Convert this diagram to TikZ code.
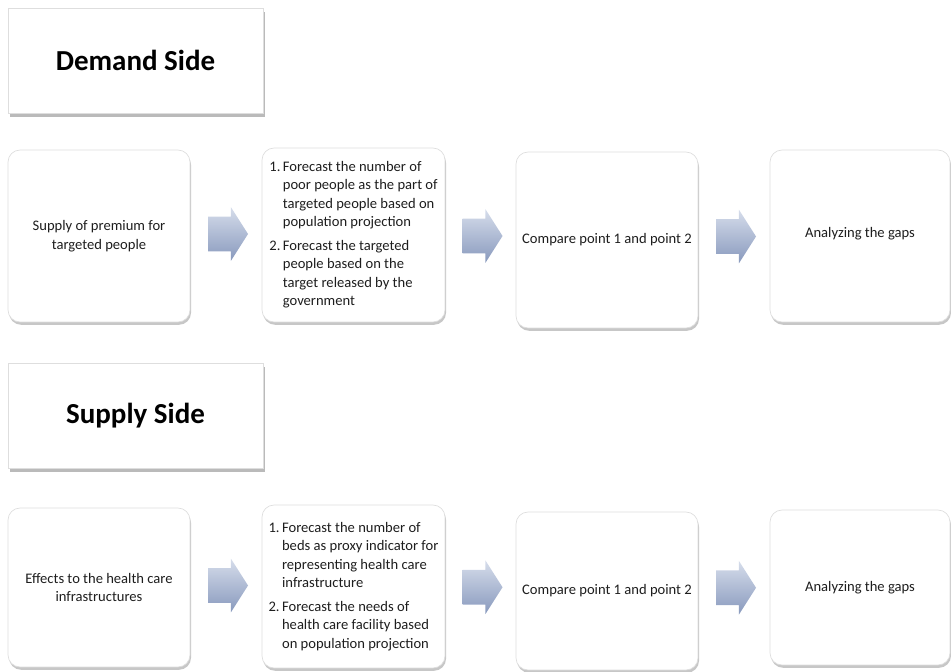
\documentclass[tikz,border=0pt]{standalone}
\usepackage{fontspec}
\setmainfont{Carlito}
\usepackage{tikz}
\usepackage{xcolor}
\usetikzlibrary{shapes.arrows, shadows, calc}
\definecolor{gBorder}{RGB}{222,222,222}
\definecolor{gText}{RGB}{30,30,30}
\definecolor{aLight}{RGB}{214,221,235}
\definecolor{aDark}{RGB}{136,153,189}

\tikzset{
  headbox/.style={draw=gBorder, fill=white, minimum width=5.1cm, minimum height=2.1cm,
    drop shadow={shadow xshift=1pt, shadow yshift=-2pt, fill=black!45, opacity=0.6},
    font=\fontsize{16.5}{20}\selectfont\bfseries, text=black},
  stepbox/.style={draw=gBorder, fill=white, rounded corners=0.24cm, minimum width=3.64cm,
    drop shadow={shadow xshift=0.6pt, shadow yshift=-1.6pt, fill=black!40, opacity=0.55},
    font=\fontsize{8.3}{10.5}\selectfont, text=gText, align=center},
  flowarrow/.style={single arrow, minimum height=0.8cm, text height=0.34cm, text depth=0.34cm,
    text width=0pt, single arrow head extend=0.19cm, single arrow tip angle=115, inner sep=0pt,
    top color=aLight, bottom color=aDark, draw=none, xshift=-0.07cm, yshift=0.03cm}
}

\begin{document}
\begin{tikzpicture}[x=0.02cm, y=-0.02cm]
  \useasboundingbox (0,0) rectangle (951,672);

  % headings
  \node[headbox] (demand) at (135.5,60.5) {Demand Side};
  \node[headbox] (supply) at (135.5,415.5) {Supply Side};

  % demand side row
  \node[stepbox, minimum height=3.44cm] (d1) at (99,236) {Supply of premium for\\targeted people};
  \node[stepbox, minimum height=3.48cm, minimum width=3.66cm] (d2) at (353.5,235) {%
    \begin{tabular}{@{}l@{\,}l@{}}
      1. & Forecast the number of\\
         & poor people as the part of\\
         & targeted people based on\\
         & population projection\\[3pt]
      2. & Forecast the targeted\\
         & people based on the\\
         & target released by the\\
         & government
    \end{tabular}};
  \node[stepbox, minimum height=3.52cm] (d3) at (607,240) {Compare point 1 and point 2};
  \node[stepbox, minimum height=3.44cm, minimum width=3.6cm] (d4) at (860,236) {\raisebox{4pt}{Analyzing the gaps}};

  % supply side row
  \node[stepbox, minimum height=3.18cm] (s1) at (99,587.5) {Effects to the health care\\infrastructures};
  \node[stepbox, minimum height=3.26cm, minimum width=3.66cm] (s2) at (353.5,586.5) {%
    \begin{tabular}{@{}l@{\,}l@{}}
      1. & Forecast the number of\\
         & beds as proxy indicator for\\
         & representing health care\\
         & infrastructure\\[3pt]
      2. & Forecast the needs of\\
         & health care facility based\\
         & on population projection
    \end{tabular}};
  \node[stepbox, minimum height=3.16cm] (s3) at (607,591) {Compare point 1 and point 2};
  \node[stepbox, minimum height=3.1cm, minimum width=3.6cm] (s4) at (860,587.5) {Analyzing the gaps};

  % block arrows between steps
  \foreach \a/\b in {d1/d2, d2/d3, d3/d4, s1/s2, s2/s3, s3/s4} {
    \node[flowarrow] (\a-\b) at ($(\a.east)!0.5!(\b.west)$) {};
  }
\end{tikzpicture}
\end{document}
